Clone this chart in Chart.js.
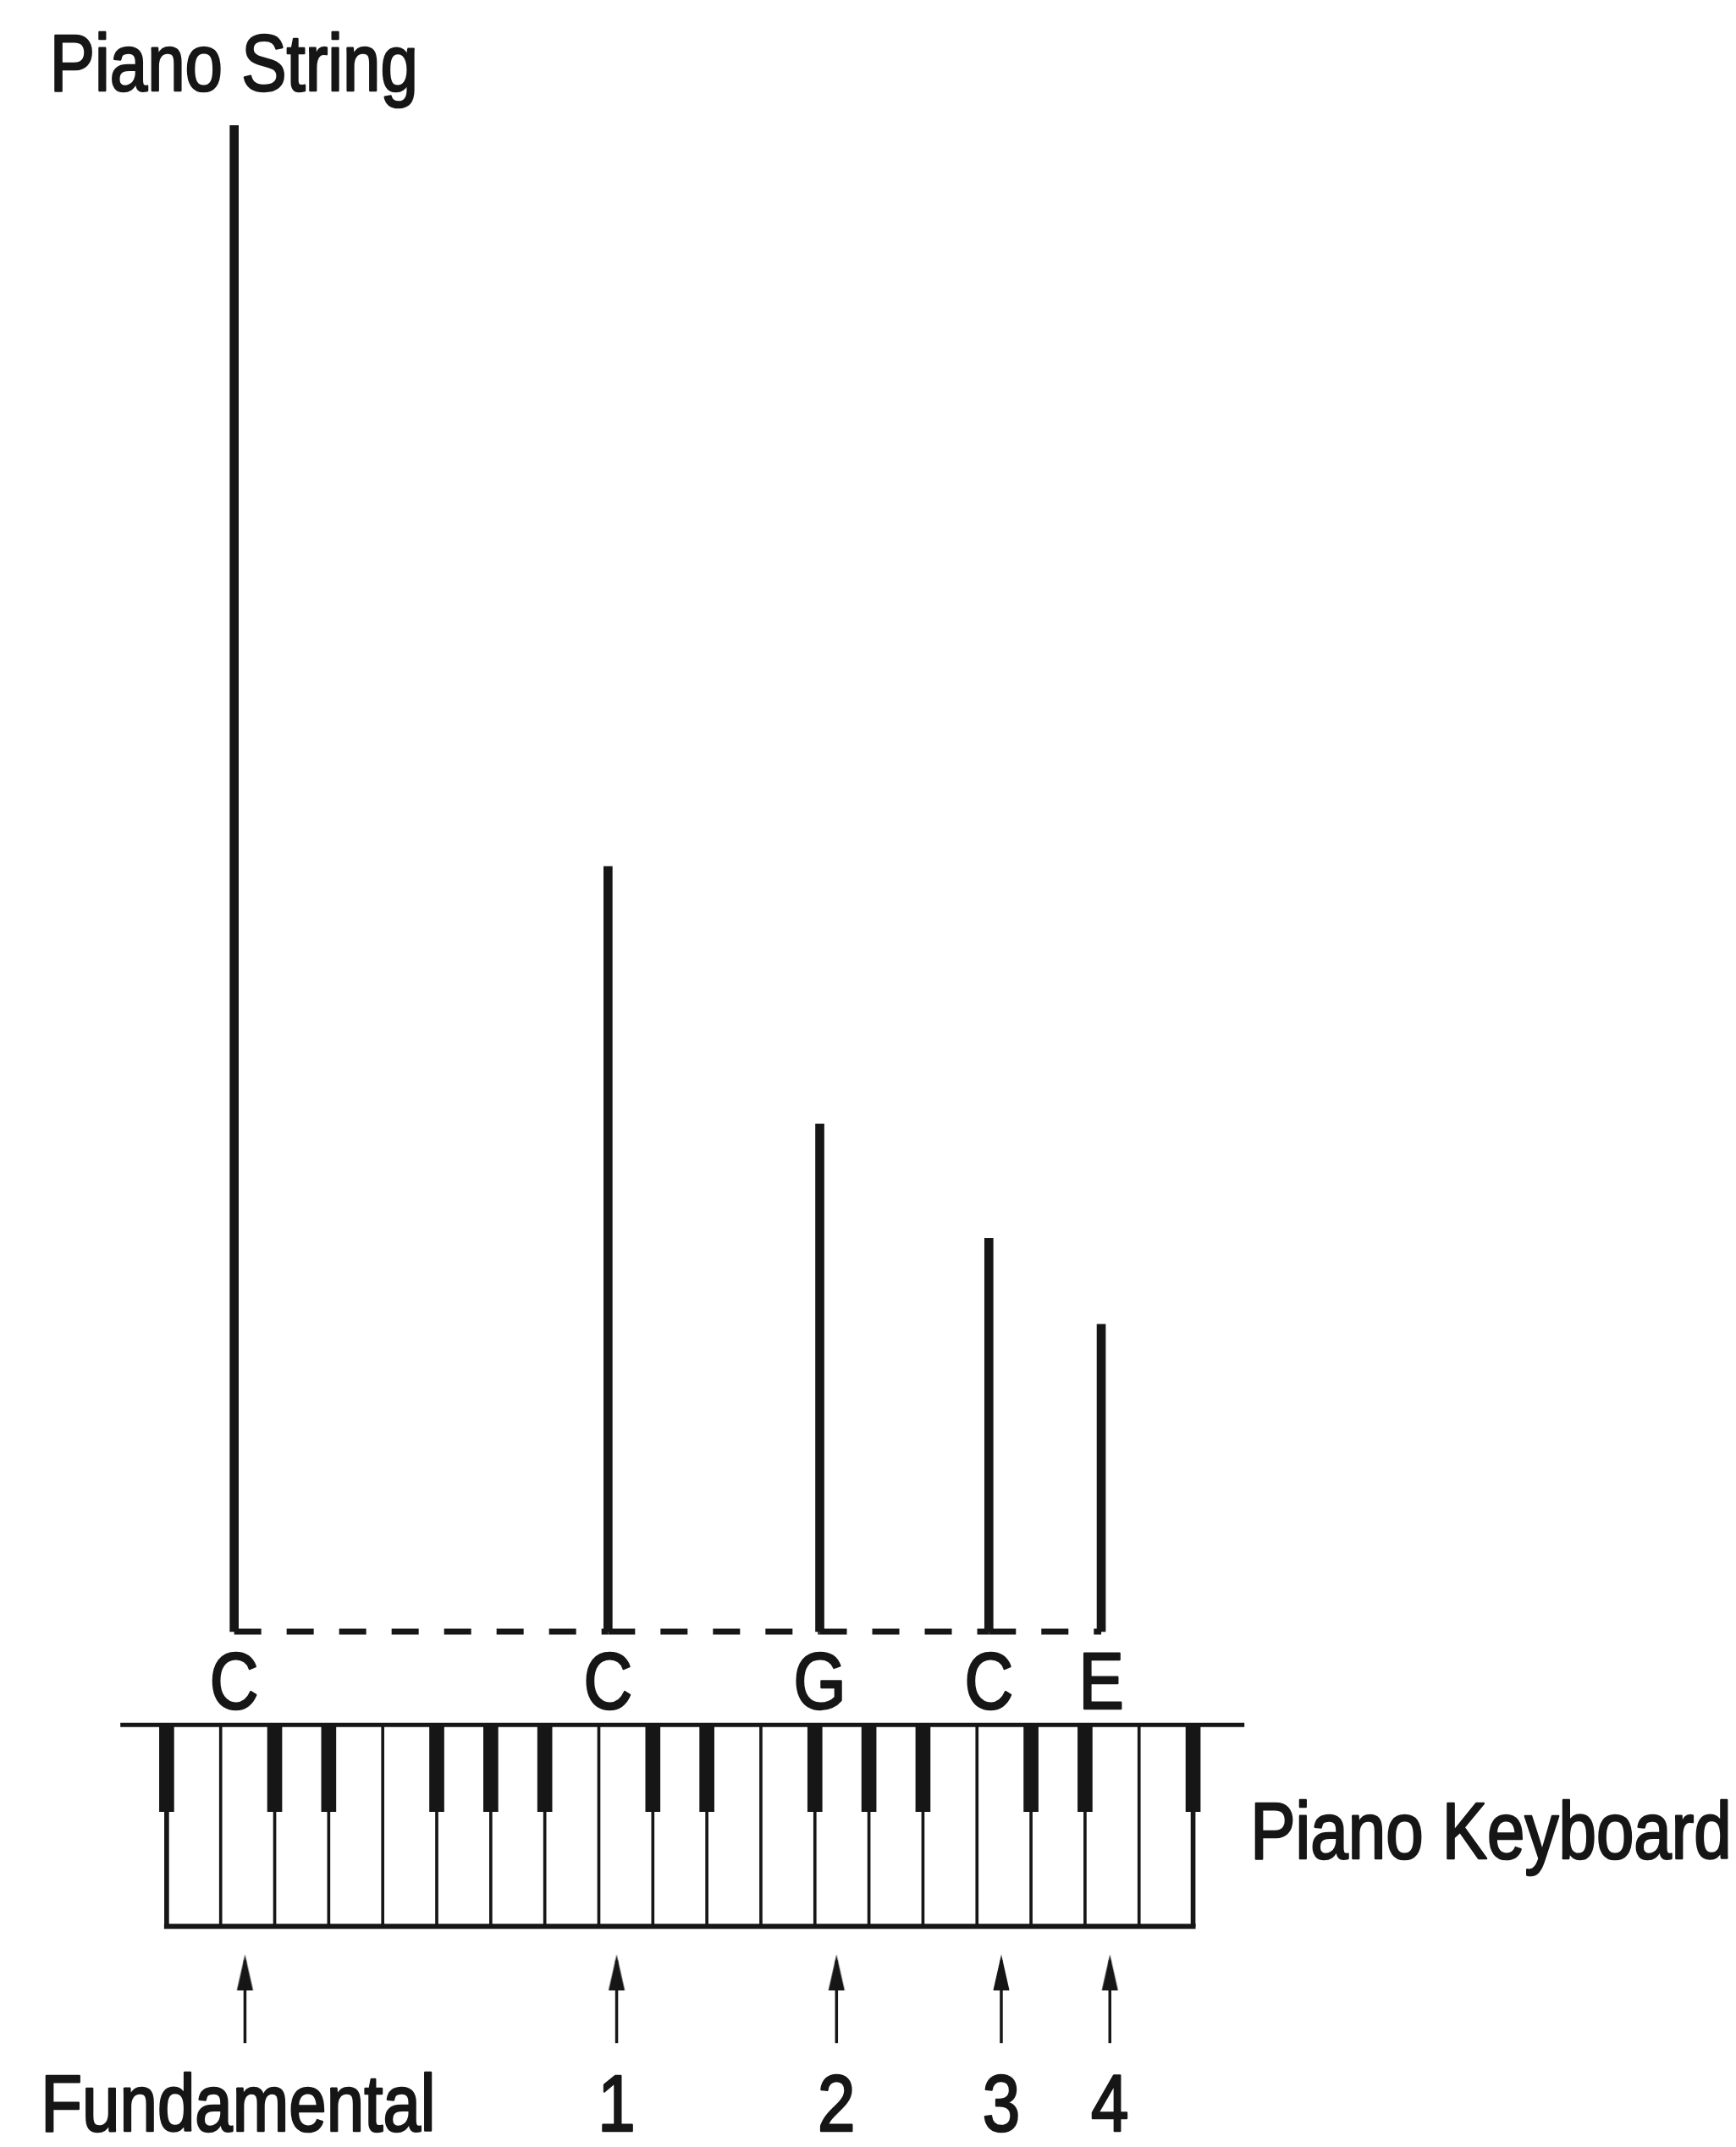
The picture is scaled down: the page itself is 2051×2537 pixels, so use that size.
<!DOCTYPE html>
<html>
<head>
<meta charset="utf-8">
<script src="https://cdn.jsdelivr.net/npm/chart.js@4.4.1/dist/chart.umd.min.js"></script>
<style>
  html, body { margin: 0; padding: 0; background: #ffffff; }
  canvas { display: block; }
</style>
</head>
<body>
<canvas id="c" width="2051" height="2537"></canvas>
<script>
// ---------------- data ----------------
const titleText = 'Piano String';
const keyboardText = 'Piano Keyboard';
const notes = ['C', 'C', 'G', 'C', 'E'];
const harmonics = ['Fundamental', '1', '2', '3', '4'];
// position along the keyboard, in white-key widths from the keyboard's left edge
const stringPos = [1.25, 8.17, 12.09, 15.22, 17.3];
// relative vibrating length of each string segment (fundamental = 1)
const stringLen = [1.0, 0.508, 0.337, 0.261, 0.204];
// arrows pointing at the keys
const arrowPos = [1.45, 8.33, 12.4, 15.45, 17.46];
const whiteKeyCount = 19;
const blackKeyPos = [0, 2, 3, 5, 6, 7, 9, 10, 12, 13, 14, 16, 17, 19];
const blackKeyDepth = 0.43;

// ---------------- styling / layout ----------------
const INK = '#161616';
const FONT = '"Liberation Sans", Arial, "DejaVu Sans", sans-serif';
const SQUEEZE = 0.85;

// arrow head image (tip at the image centre)
function makeArrowHead() {
  const c = document.createElement('canvas');
  c.width = 24; c.height = 84;
  const g = c.getContext('2d');
  g.fillStyle = INK;
  g.beginPath();
  g.moveTo(12, 42);
  g.lineTo(2.5, 84);
  g.lineTo(21.5, 84);
  g.closePath();
  g.fill();
  return c;
}
const arrowHead = makeArrowHead();

const datasets = [];

// strings (vertical bars from the common base)
datasets.push({
  type: 'bar',
  data: stringPos.map((x, i) => ({ x: x, y: stringLen[i] })),
  backgroundColor: INK,
  barThickness: 10,
  grouped: false,
  yAxisID: 'y'
});

// dashed base joining the strings
for (let i = 0; i < stringPos.length - 1; i++) {
  datasets.push({
    type: 'line',
    data: [{ x: stringPos[i], y: 0 }, { x: stringPos[i + 1], y: 0 }],
    borderColor: INK,
    borderWidth: 7,
    borderDash: [32, 30],
    borderCapStyle: 'butt',
    pointRadius: 0,
    fill: false,
    yAxisID: 'y'
  });
}

// black keys
datasets.push({
  type: 'bar',
  data: blackKeyPos.map(x => ({ x: x, y: [0, blackKeyDepth] })),
  backgroundColor: INK,
  barThickness: 17,
  grouped: false,
  yAxisID: 'yk'
});

// white key dividers
const inner = [];
for (let i = 1; i < whiteKeyCount; i++) inner.push({ x: i, y: [0, 1] });
datasets.push({
  type: 'bar',
  data: inner,
  backgroundColor: INK,
  barThickness: 3,
  grouped: false,
  yAxisID: 'yk'
});
datasets.push({
  type: 'bar',
  data: [{ x: 0, y: [0, 1] }, { x: whiteKeyCount, y: [0, 1] }],
  backgroundColor: INK,
  barThickness: 5,
  grouped: false,
  yAxisID: 'yk'
});

// keyboard top rail and bottom edge
datasets.push({
  type: 'line',
  data: [{ x: -0.857, y: 0 }, { x: 19.95, y: 0 }],
  borderColor: INK, borderWidth: 5, pointRadius: 0, fill: false,
  yAxisID: 'yk'
});
datasets.push({
  type: 'line',
  data: [{ x: 0, y: 1 }, { x: whiteKeyCount, y: 1 }],
  borderColor: INK, borderWidth: 6, pointRadius: 0, fill: false,
  borderCapStyle: 'square',
  yAxisID: 'yk'
});

// arrows
arrowPos.forEach(a => {
  datasets.push({
    type: 'line',
    data: [{ x: a, y: 1.58 }, { x: a, y: 1.17 }],
    borderColor: INK, borderWidth: 3.5, pointRadius: 0, fill: false,
    yAxisID: 'yk'
  });
});
datasets.push({
  type: 'line',
  data: arrowPos.map(a => ({ x: a, y: 1.14 })),
  showLine: false,
  pointStyle: arrowHead,
  pointRadius: 5,
  yAxisID: 'yk'
});

// text labels
const textPlugin = {
  id: 'pianoTexts',
  afterDraw(chart) {
    const { ctx } = chart;
    const sx = chart.scales.x, sy = chart.scales.y, sk = chart.scales.yk;
    const draw = (txt, px, py, align) => {
      ctx.save();
      ctx.translate(px, py);
      ctx.scale(SQUEEZE, 1);
      ctx.font = '94px ' + FONT;
      ctx.fillStyle = INK;
      ctx.strokeStyle = INK;
      ctx.lineWidth = 2.6;
      ctx.lineJoin = 'round';
      ctx.textAlign = align;
      ctx.textBaseline = 'alphabetic';
      ctx.fillText(txt, 0, 0);
      ctx.strokeText(txt, 0, 0);
      ctx.restore();
    };
    draw(titleText, sx.getPixelForValue(-2.165), sy.getPixelForValue(1.023), 'left');
    notes.forEach((n, i) => draw(n, sx.getPixelForValue(stringPos[i]), sk.getPixelForValue(-0.0795), 'center'));
    harmonics.forEach((h, i) => draw(h, sx.getPixelForValue(arrowPos[i]) - (i === 0 ? 8 : 0), sk.getPixelForValue(2.017), 'center'));
    draw(keyboardText, sx.getPixelForValue(20.06), sk.getPixelForValue(0.661), 'left');
  }
};

new Chart(document.getElementById('c'), {
  type: 'bar',
  data: { datasets: datasets },
  options: {
    responsive: false,
    devicePixelRatio: 1,
    animation: false,
    events: [],
    layout: { padding: 0 },
    plugins: { legend: { display: false }, tooltip: { enabled: false }, title: { display: false } },
    scales: {
      x: { type: 'linear', display: false, offset: false, bounds: 'data', min: -2.9907, max: 28.956 },
      y: { type: 'linear', display: false, bounds: 'data', min: -0.3389, max: 1.08 },
      yk: { type: 'linear', display: false, bounds: 'data', reverse: true, min: -8.544, max: 2.071 }
    }
  },
  plugins: [textPlugin]
});
</script>
</body>
</html>
